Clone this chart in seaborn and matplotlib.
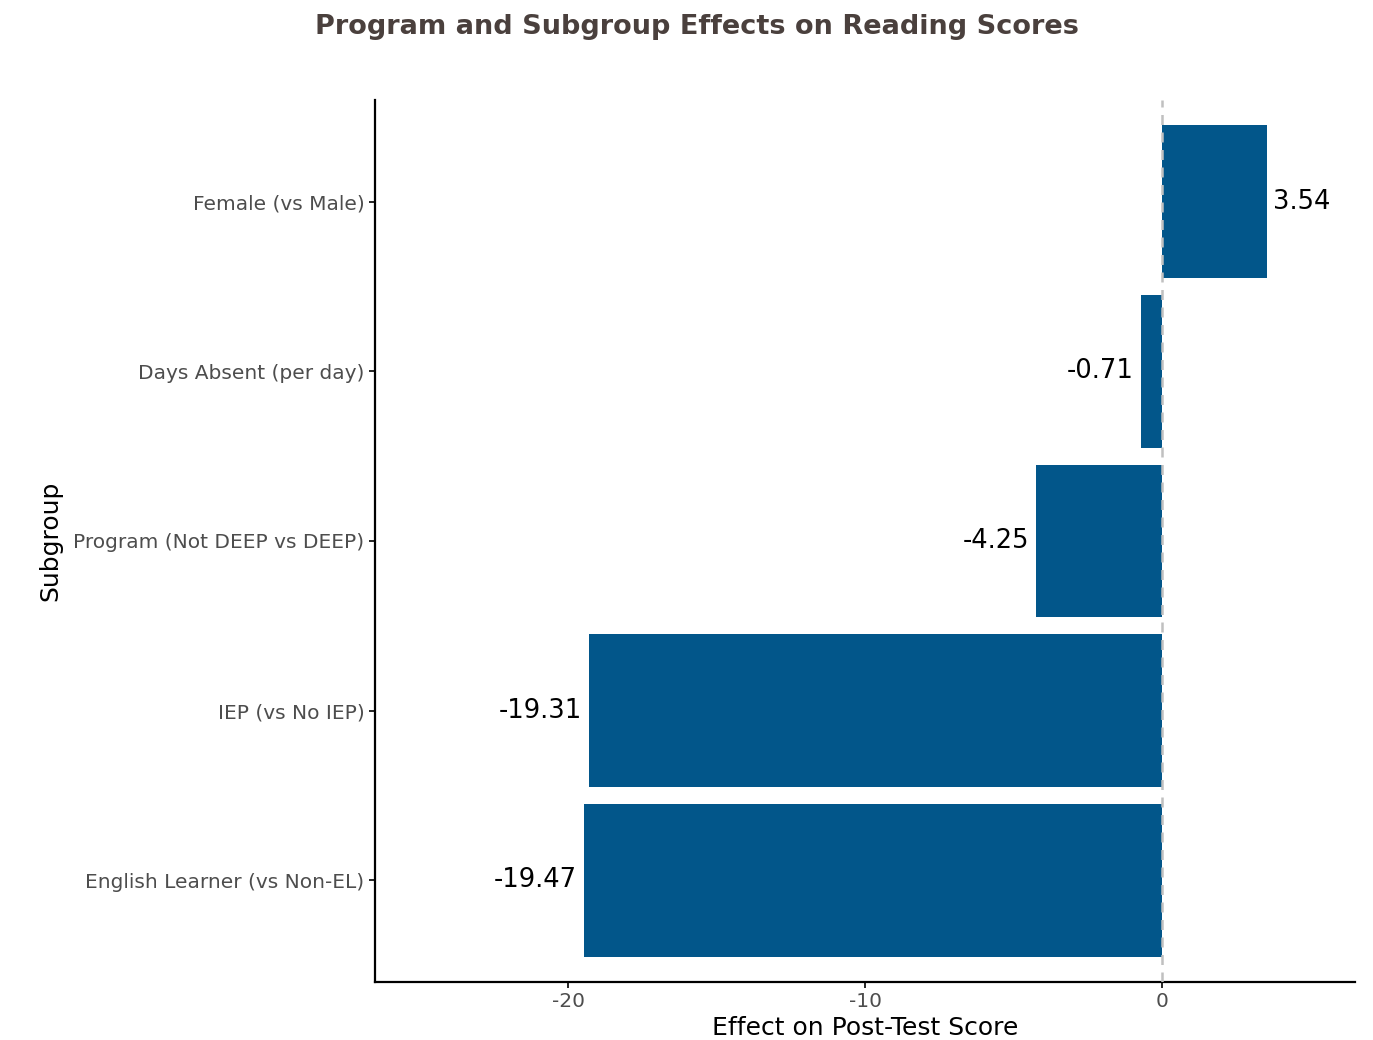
import pandas as pd
import matplotlib.pyplot as plt
import seaborn as sns

# Data
subgroups = ['Female (vs Male)', 'Days Absent (per day)', 'Program (Not DEEP vs DEEP)',
             'IEP (vs No IEP)', 'English Learner (vs Non-EL)']
effects = [3.54, -0.71, -4.25, -19.31, -19.47]
x_ticks = [-20, -10, 0]

df = pd.DataFrame({'Subgroup': subgroups, 'Effect': effects})

sns.set_style('white')
plt.rcParams['font.family'] = ['DejaVu Sans']

fig = plt.figure(figsize=(13.73, 10.4), dpi=100)
ax = fig.add_axes([375 / 1373, 1 - 982 / 1040, 980 / 1373, 882 / 1040])

sns.barplot(data=df, y='Subgroup', x='Effect', order=subgroups, orient='h',
            color='#02568a', saturation=1, width=0.9, linewidth=0, ax=ax)

ax.axvline(0, color='#c0c0c0', linestyle=(0, (4, 3)), linewidth=1.8, zorder=5)

# value labels
for i, v in enumerate(effects):
    if v >= 0:
        ax.annotate(f'{v:.2f}', (v, i), xytext=(4, 0), textcoords='offset points',
                    ha='left', va='center', fontsize=18.5, color='black')
    else:
        ax.annotate(f'{v:.2f}', (v, i), xytext=(-5, 0), textcoords='offset points',
                    ha='right', va='center', fontsize=18.5, color='black')

ax.set_xlim(-26.5, 6.5)
ax.set_ylim(4.6, -0.6)
ax.set_xticks(x_ticks)
ax.set_xticklabels([str(t) for t in x_ticks])
ax.tick_params(axis='both', labelsize=14.5, labelcolor='#4d4d4d', length=4, width=1.2,
               color='black', direction='out', left=True, bottom=True)
ax.set_xlabel('Effect on Post-Test Score', fontsize=18, labelpad=3, color='black')
ax.set_ylabel('Subgroup', fontsize=18, labelpad=8, color='black')

for s in ['top', 'right']:
    ax.spines[s].set_visible(False)
for s in ['left', 'bottom']:
    ax.spines[s].set_color('black')
    ax.spines[s].set_linewidth(1.6)

fig.suptitle('Program and Subgroup Effects on Reading Scores', x=697 / 1373, y=1 - 27 / 1040,
             va='center', fontsize=19.5, fontweight='bold', color='#4a403d',
             family=['DejaVu Sans'])

plt.savefig('out.png', dpi=100)
plt.close()
